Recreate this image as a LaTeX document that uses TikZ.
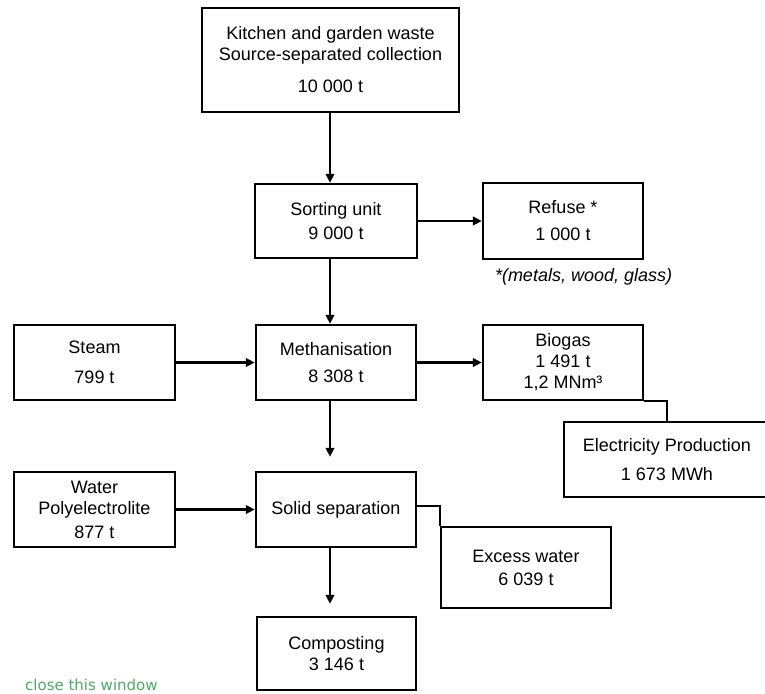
\documentclass[tikz,border=0pt]{standalone}
\usepackage{fontspec}
\setmainfont{Liberation Sans}
\newfontfamily\linkfont{DejaVu Sans}
\usetikzlibrary{arrows.meta}
\definecolor{linkgreen}{RGB}{76,172,98}

\begin{document}
\begin{tikzpicture}[x=1pt,y=-1pt,
    box/.style={draw,line width=2.4pt,align=center,inner sep=0pt,
      font=\fontsize{18}{21}\selectfont},
    flow/.style={line width=2.5pt,-{Triangle[length=9pt,width=8.5pt]}},
    link/.style={line width=2pt}]
  \useasboundingbox (0,0) rectangle (765,693);
  \coordinate (spine) at (330,0);

  % Boxes
  \node[box,minimum width=257pt,minimum height=104pt] (waste) at (330.5,60)
    {Kitchen and garden waste\\Source-separated collection\\[11pt]10 000 t};
  \node[box,minimum width=162pt,minimum height=74pt] (sort) at (336,221)
    {Sorting unit\\[3pt]9 000 t};
  \node[box,minimum width=160pt,minimum height=76pt] (refuse) at (563,221)
    {Refuse *\\[6pt]1 000 t};
  \node[box,minimum width=161pt,minimum height=75pt] (steam) at (94.5,362.5)
    {Steam\\[9pt]799 t};
  \node[box,minimum width=160pt,minimum height=75pt] (meth) at (336,362.5)
    {Methanisation\\[6pt]8 308 t};
  \node[box,minimum width=160pt,minimum height=75pt] (biogas) at (563,362.5)
    {Biogas\\1 491 t\\1,2 MNm³};
  \node[box,minimum width=206pt,minimum height=75pt] (elec) at (667,459.5)
    {Electricity Production\\[8pt]1 673 MWh};
  \node[box,minimum width=161pt,minimum height=75pt] (water) at (94.5,509.5)
    {Water\\Polyelectrolite\\[3pt]877 t};
  \node[box,minimum width=160pt,minimum height=75pt] (solid) at (336,509.5)
    {Solid separation};
  \node[box,minimum width=170pt,minimum height=81pt] (excess) at (526,567.5)
    {Excess water\\[2pt]6 039 t};
  \node[box,minimum width=159pt,minimum height=73pt] (compost) at (336.5,653.5)
    {Composting\\3 146 t};

  % Notes
  \node[anchor=base west,inner sep=0pt,font=\fontsize{18}{21}\selectfont\itshape]
    (note) at ([shift={(13,21)}]refuse.south west) {*(metals, wood, glass)};
  \node[anchor=base west,inner sep=0pt,text=linkgreen,font=\linkfont\fontsize{15}{18}\selectfont]
    (close) at (25,690) {close this window};

  % Flows
  \draw[flow] (waste.south -| spine) -- (sort.north -| spine);
  \draw[flow] (sort.east) -- (refuse.west);
  \draw[flow] (sort.south -| spine) -- (meth.north -| spine);
  \draw[flow] (steam.east) -- (meth.west);
  \draw[flow] (meth.east) -- (biogas.west);
  \draw[flow,shorten >=14pt] (meth.south -| spine) -- (solid.north -| spine);
  \draw[flow] (water.east) -- (solid.west);
  \draw[flow,shorten >=12pt] (solid.south -| spine) -- (compost.north -| spine);
  \draw[link] (biogas.south east) -| (elec.north);
  \draw[link] ([yshift=4pt]solid.east) -| (excess.north west);
\end{tikzpicture}
\end{document}
